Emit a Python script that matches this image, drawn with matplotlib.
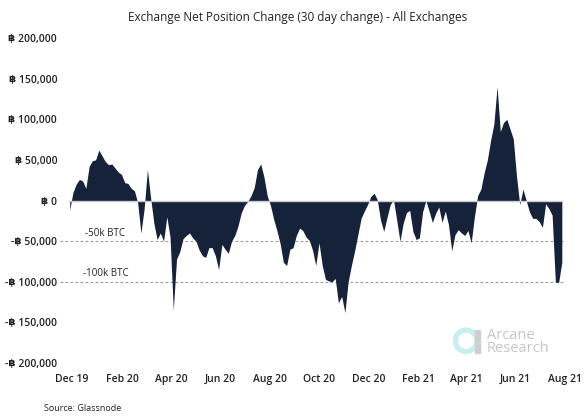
import numpy as np
import pandas as pd
import matplotlib
matplotlib.use("Agg")
import matplotlib.pyplot as plt
import matplotlib.transforms as mtransforms
from matplotlib.patches import Wedge, Rectangle

# 30-day change of BTC held on exchanges, thousands of BTC, every 4 days from 2019-11-28
net_change_k = [
    -12, 10, 20, 26, 24, 15, 42, 49, 50, 62,
    55, 48, 44, 45, 40, 35, 32, 22, 21, 15,
    12, -3, -40, -10, 38, 3, -28, -48, -40, -50,
    -20, -45, -135, -72, -63, -47, -43, -40, -46, -50,
    -61, -68, -70, -58, -58, -68, -85, -54, -60, -65,
    -50, -43, -31, -15, -6, -1, 6, 16, 38, 45,
    29, 6, -6, -23, -37, -53, -76, -80, -60, -58,
    -43, -34, -37, -45, -49, -61, -80, -52, -80, -97,
    -99, -100, -96, -126, -118, -138, -100, -80, -62, -42,
    -22, -13, -5, 5, 9, 1, -24, -38, -21, -5,
    1, -24, -50, -28, -15, -12, -38, -48, -46, -14,
    0, -13, -27, -16, -8, -27, -13, -30, -62, -42,
    -36, -40, -43, -37, -52, -20, 6, 14, 34, 50,
    74, 94, 140, 85, 96, 100, 88, 76, 30, -5,
    14, 0, -14, -22, -22, -26, -33, -4, -10, -18,
    -100, -101, -76,
]
dates = pd.date_range("2019-11-28", periods=len(net_change_k), freq="4D")
values = np.array(net_change_k) * 1000

y_ticks = [200000, 150000, 100000, 50000, 0, -50000, -100000, -150000, -200000]
x_tick_dates = pd.date_range("2019-12-01", "2021-08-01", freq="2MS")
ref_levels = [-50000, -100000]
ref_labels = ["-50k BTC", "-100k BTC"]

fonts = ["Open Sans", "DejaVu Sans"]
plt.rcParams["font.family"] = fonts
navy = "#16223a"
text_col = "#222222"

fig = plt.figure(figsize=(5.88, 4.2), dpi=100)
ax = fig.add_axes([0.102, 0.1357, 0.859, 0.7738])

ax.fill_between(dates, values, 0, color=navy, lw=0, zorder=2)
ax.axhline(0, xmin=0.018, xmax=0.993, color="#c9c9c9", lw=1, zorder=3)

for lvl, lab in zip(ref_levels, ref_labels):
    ax.axhline(lvl, color="#9a9a9a", lw=0.8, ls=(0, (2.5, 2)), zorder=1)
    tr = mtransforms.blended_transform_factory(ax.transAxes, ax.transData)
    ax.text(0.09, lvl + 3000, lab, transform=tr, ha="center", va="bottom",
            fontsize=7, color=text_col)

ax.set_ylim(-200000, 200000)
ax.set_xlim(pd.Timestamp("2019-11-16"), pd.Timestamp("2021-08-01"))

def fmt(v):
    if v == 0:
        return "\u0e3f 0"
    s = "\u0e3f {:,}".format(abs(v))
    return "-" + s if v < 0 else s

ax.set_yticks(y_ticks)
ax.set_yticklabels([fmt(v) for v in y_ticks], fontsize=7.5, color=text_col,
                   fontweight="semibold")
ax.set_xticks(x_tick_dates)
ax.set_xticklabels([d.strftime("%b %y") for d in x_tick_dates], fontsize=7.5,
                   color=text_col, fontweight="semibold")
ax.tick_params(axis="both", length=0)
ax.tick_params(axis="y", pad=2)
ax.tick_params(axis="x", pad=8)
for sp in ax.spines.values():
    sp.set_visible(False)

fig.text(0.506, 0.958, "Exchange Net Position Change (30 day change) - All Exchanges",
         ha="center", va="center", fontsize=8.5, color=text_col)
fig.text(0.075, 0.028, "Source: Glassnode", ha="left", va="center",
         fontsize=6.5, color=text_col)

# Arcane Research logo
logo = fig.add_axes([0.77, 0.155, 0.05, 0.067])
logo.set_xlim(0, 1)
logo.set_ylim(0, 1)
logo.set_aspect("equal")
logo.axis("off")
logo.add_patch(Wedge((0.45, 0.5), 0.45, 0, 360, width=0.14, color="#c8eff0"))
logo.add_patch(Rectangle((0.78, 0.05), 0.16, 0.85, color="#cfcfcf"))
fig.text(0.828, 0.186, "Arcane\nResearch", fontsize=10.5, color="#c6c6c6",
         va="center", ha="left", linespacing=0.85)

fig.savefig("out.png", dpi=100, facecolor="white")
